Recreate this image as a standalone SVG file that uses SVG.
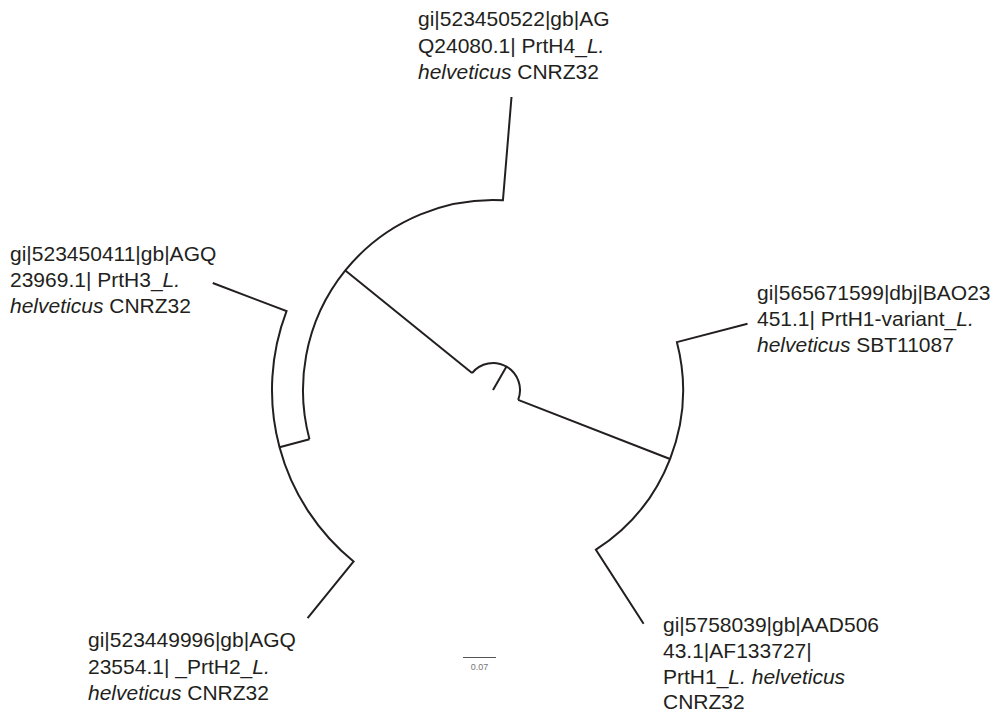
<svg xmlns="http://www.w3.org/2000/svg" width="996" height="714" viewBox="0 0 996 714">
<style>
.br{fill:none;stroke:#231f20;stroke-width:2;stroke-linejoin:miter;stroke-linecap:butt}
.lb{font-family:"Liberation Sans",Arial,sans-serif;font-size:21px;fill:#231f20}
.it{font-style:italic}
.sc{font-family:"Liberation Sans",Arial,sans-serif;font-size:9px;fill:#777}
</style>
<rect width="996" height="714" fill="#fff"/>
<g id="connectors">
<path class="br" d="M493 390 L506.5 366.6"/>
<path class="br" d="M472.02 373.01 A27 27 0 0 1 518.16 399.81"/>
<path class="br" d="M472.02 373.01 L345.35 270.43"/>
<path class="br" d="M518.16 399.81 L670.02 459.03"/>
<path class="br" d="M309.47 439.17 A190 190 0 0 1 502.94 200.26 L511.5 97"/>
<path class="br" d="M309.47 439.17 L279.53 447.2"/>
<path class="br" d="M307.57 618.14 L353.61 561.5 A221 221 0 0 1 286.54 311.17 L212.74 282.99"/>
<path class="br" d="M747.51 323.7 L676.86 342.1 A190 190 0 0 1 595.92 549.71 L643.59 623.69"/>
</g>
<g id="n-H4">
<text class="lb" x="418" y="26">gi|523450522|gb|AG</text>
<text class="lb" x="418" y="53">Q24080.1| PrtH4_<tspan class="it">L.</tspan></text>
<text class="lb" x="418" y="79"><tspan class="it">helveticus</tspan> CNRZ32</text>
</g>
<g id="n-H3">
<text class="lb" x="10" y="261">gi|523450411|gb|AGQ</text>
<text class="lb" x="10" y="287">23969.1| PrtH3_<tspan class="it">L.</tspan></text>
<text class="lb" x="10" y="313"><tspan class="it">helveticus</tspan> CNRZ32</text>
</g>
<g id="n-variant">
<text class="lb" x="757" y="300">gi|565671599|dbj|BAO23</text>
<text class="lb" x="757" y="326">451.1| PrtH1-variant_<tspan class="it">L.</tspan></text>
<text class="lb" x="757" y="352"><tspan class="it">helveticus</tspan> SBT11087</text>
</g>
<g id="n-H2">
<text class="lb" x="88" y="647">gi|523449996|gb|AGQ</text>
<text class="lb" x="88" y="674">23554.1| _PrtH2_<tspan class="it">L.</tspan></text>
<text class="lb" x="88" y="700"><tspan class="it">helveticus</tspan> CNRZ32</text>
</g>
<g id="n-H1">
<text class="lb" x="663" y="632">gi|5758039|gb|AAD506</text>
<text class="lb" x="663" y="658">43.1|AF133727|</text>
<text class="lb" x="663" y="684">PrtH1_<tspan class="it">L. helveticus</tspan></text>
<text class="lb" x="663" y="709">CNRZ32</text>
</g>
<g id="scale">
<line x1="463" y1="657.5" x2="496" y2="657.5" stroke="#555" stroke-width="1"/>
<text class="sc" x="479.5" y="670" text-anchor="middle">0.07</text>
</g>
</svg>
